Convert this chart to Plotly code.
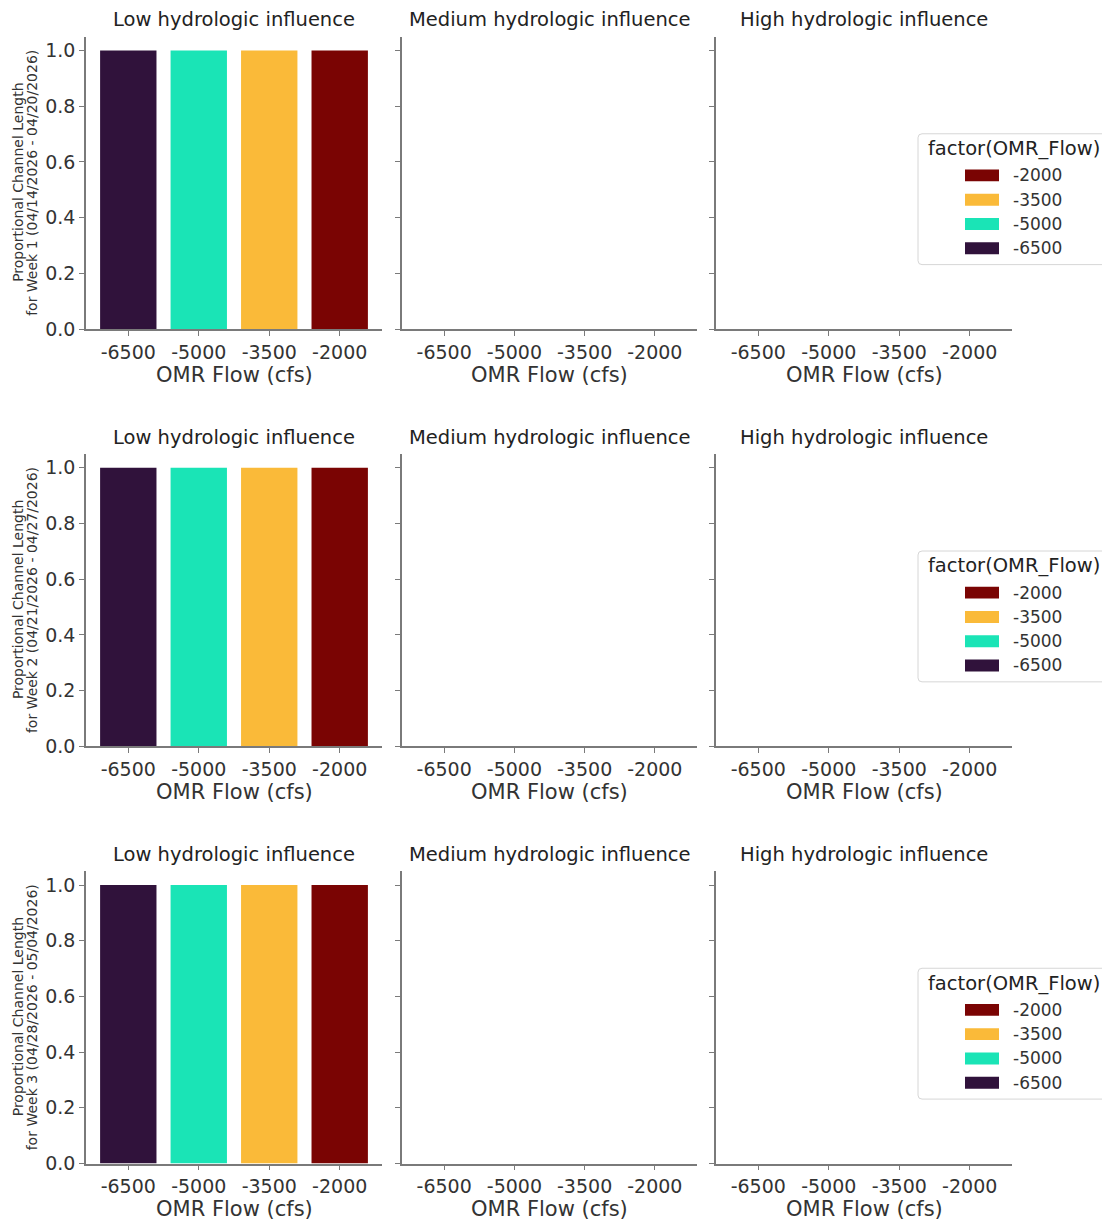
import plotly.graph_objects as go

# ---- data -------------------------------------------------------------
flows = ["-6500", "-5000", "-3500", "-2000"]
flow_colors = ["#30123B", "#1AE4B6", "#FABA39", "#7A0403"]
influence_levels = ["Low hydrologic influence",
                    "Medium hydrologic influence",
                    "High hydrologic influence"]
y_title_top = "Proportional Channel Length"
week_labels = ["for Week 1 (04/14/2026 - 04/20/2026)",
               "for Week 2 (04/21/2026 - 04/27/2026)",
               "for Week 3 (04/28/2026 - 05/04/2026)"]
y_ticks = [0.0, 0.2, 0.4, 0.6, 0.8, 1.0]

# proportional channel length per week, per influence level (one value per flow)
week1_low = [1.0, 1.0, 1.0, 1.0]
week2_low = [1.0, 1.0, 1.0, 1.0]
week3_low = [1.0, 1.0, 1.0, 1.0]
week1_medium, week2_medium, week3_medium = [], [], []
week1_high, week2_high, week3_high = [], [], []

weeks = [
    [week1_low, week1_medium, week1_high],
    [week2_low, week2_medium, week2_high],
    [week3_low, week3_medium, week3_high],
]

# ---- layout helpers ---------------------------------------------------
W, H = 1102, 1230
FONT = "DejaVu Sans"
AXIS_COLOR = "#7a7a7a"
TEXT_COLOR = "#333333"


def px(x):
    return x / W


def py(y):
    return 1 - y / H


col_px = [(86, 382), (402, 697), (716, 1012)]
row_px = [(37, 332), (458, 753), (879, 1174)]

fig = go.Figure()
layout = {}
annotations = []
shapes = []

for r, row_values in enumerate(weeks):
    top, bottom = row_px[r]
    for c, values in enumerate(row_values):
        k = r * 3 + c + 1
        xa = "x" if k == 1 else f"x{k}"
        ya = "y" if k == 1 else f"y{k}"
        xkey = "xaxis" if k == 1 else f"xaxis{k}"
        ykey = "yaxis" if k == 1 else f"yaxis{k}"

        if values:
            fig.add_trace(go.Bar(
                x=flows[:len(values)], y=values,
                marker=dict(color=flow_colors[:len(values)], line=dict(width=0)),
                width=0.8, xaxis=xa, yaxis=ya, showlegend=False,
            ))
        else:
            # panel without data: keep its axes on the page
            fig.add_trace(go.Scatter(
                x=flows, y=[None] * len(flows), mode="markers",
                xaxis=xa, yaxis=ya, showlegend=False, hoverinfo="skip",
            ))

        layout[xkey] = dict(
            domain=[px(col_px[c][0]), px(col_px[c][1])], anchor=ya,
            type="category", categoryorder="array", categoryarray=flows,
            range=[-0.6, len(flows) - 0.4], showgrid=False, zeroline=False,
            showline=True, linecolor=AXIS_COLOR, linewidth=1.6,
            ticks="outside", ticklen=5, tickwidth=1.4, tickcolor=AXIS_COLOR,
            tickfont=dict(family=FONT, size=19, color=TEXT_COLOR),
            fixedrange=True,
        )
        layout[ykey] = dict(
            domain=[py(bottom), py(top)], anchor=xa,
            range=[0, 1.05], tickvals=y_ticks, tickformat=".1f",
            showticklabels=(c == 0), showgrid=False, zeroline=False,
            showline=True, linecolor=AXIS_COLOR, linewidth=1.6,
            ticks="outside", ticklen=5, tickwidth=1.4, tickcolor=AXIS_COLOR,
            tickfont=dict(family=FONT, size=19, color=TEXT_COLOR),
            fixedrange=True,
        )

        cx = (col_px[c][0] + col_px[c][1]) / 2
        # panel title
        annotations.append(dict(
            text=influence_levels[c], x=px(cx), y=py(top - 17),
            xref="paper", yref="paper", xanchor="center", yanchor="middle",
            showarrow=False, font=dict(family=FONT, size=19.5, color="#222222"),
        ))
        # x axis title
        annotations.append(dict(
            text="OMR Flow (cfs)", x=px(cx), y=py(bottom + 46),
            xref="paper", yref="paper", xanchor="center", yanchor="middle",
            showarrow=False, font=dict(family=FONT, size=21, color=TEXT_COLOR),
        ))

    # y axis title, two rotated lines
    for line_text, lx in ((y_title_top, 18), (week_labels[r], 32)):
        annotations.append(dict(
            text=line_text, x=px(lx), y=py((top + bottom) / 2),
            xref="paper", yref="paper", xanchor="center", yanchor="middle",
            textangle=-90, showarrow=False,
            font=dict(family=FONT, size=14, color=TEXT_COLOR),
        ))

    # legend box for this row
    bx0, bx1 = 918, 1112
    by0, by1 = bottom - 197, bottom - 65
    rad = 4
    path = (f"M {px(bx0 + rad)},{py(by0)} L {px(bx1)},{py(by0)} "
            f"L {px(bx1)},{py(by1)} L {px(bx0 + rad)},{py(by1)} "
            f"Q {px(bx0)},{py(by1)} {px(bx0)},{py(by1 - rad)} "
            f"L {px(bx0)},{py(by0 + rad)} Q {px(bx0)},{py(by0)} {px(bx0 + rad)},{py(by0)} Z")
    shapes.append(dict(type="path", path=path, xref="paper", yref="paper",
                       line=dict(color="#d6d6d6", width=1), fillcolor="white",
                       layer="above"))
    annotations.append(dict(
        text="factor(OMR_Flow)", x=px(926), y=py(bottom - 182),
        xref="paper", yref="paper", xanchor="left", yanchor="middle",
        showarrow=False, font=dict(family=FONT, size=19.5, color="#222222"),
    ))
    for i, (flow, color) in enumerate(zip(flows[::-1], flow_colors[::-1])):
        ey = bottom - 155 + i * 24.5
        shapes.append(dict(type="rect", xref="paper", yref="paper",
                           x0=px(965), x1=px(999), y0=py(ey + 6), y1=py(ey - 6),
                           fillcolor=color, line=dict(width=0), layer="above"))
        annotations.append(dict(
            text=flow, x=px(1011), y=py(ey), xref="paper", yref="paper",
            xanchor="left", yanchor="middle", showarrow=False,
            font=dict(family=FONT, size=17, color=TEXT_COLOR),
        ))

fig.update_layout(
    width=W, height=H, margin=dict(l=0, r=0, t=0, b=0),
    paper_bgcolor="white", plot_bgcolor="white",
    showlegend=False, bargap=0.2,
    annotations=annotations, shapes=shapes, **layout,
)

fig.write_html("out.html")
